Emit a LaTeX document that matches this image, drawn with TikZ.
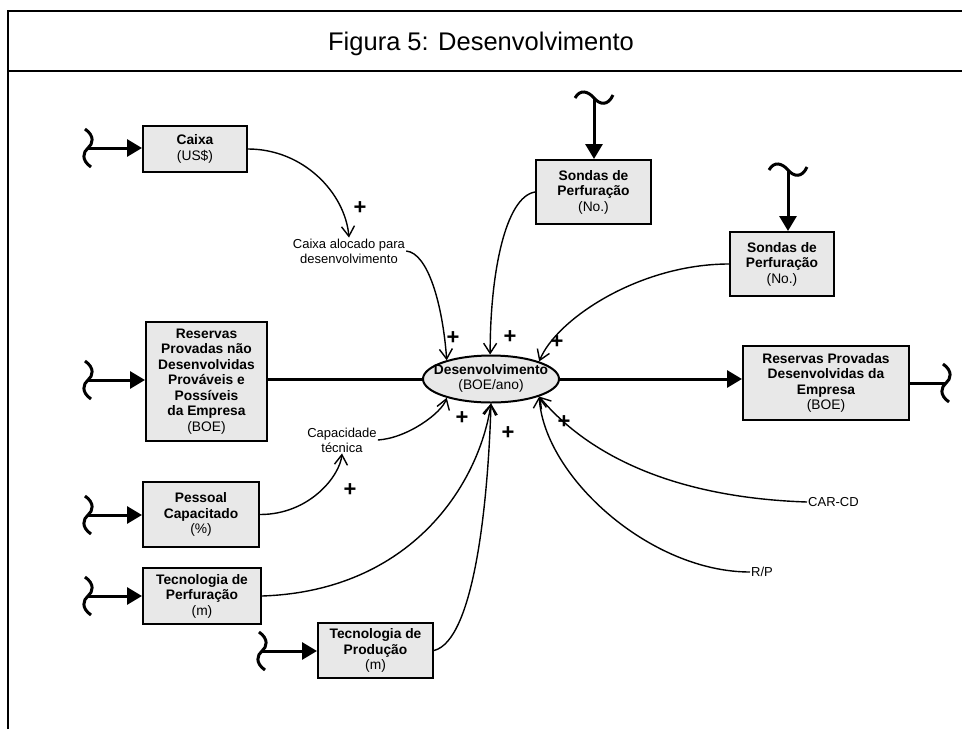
\documentclass[tikz,border=0pt]{standalone}
\usepackage{fontspec}
\setmainfont{Liberation Sans}
\usetikzlibrary{arrows.meta,shapes.geometric}
\definecolor{stockfill}{RGB}{232,232,232}
\begin{document}
\begin{tikzpicture}[x=1pt,y=-1pt,
  stock/.style={draw, line width=2pt, fill=stockfill, inner sep=0pt, align=center,
                font=\fontsize{13.8}{15.5}\selectfont},
  rate/.style={ellipse, draw, line width=2pt, fill=stockfill, inner sep=0pt,
               minimum width=136pt, minimum height=47pt},
  lbl/.style={align=center, inner sep=1pt, font=\fontsize{13}{15}\selectfont},
  plus/.style={inner sep=0pt, font=\fontsize{22}{22}\selectfont\bfseries},
  link/.style={line width=1.4pt, -{Straight Barb[length=10pt,width=13pt]}},
  flow/.style={line width=3pt},
  flowarrow/.style={flow, -{Triangle[length=15pt,width=17pt]}},
  srcv/.pic={\draw[line width=3pt] (-3,-19) .. controls (7,-12) and (5,-4) .. (0,0)
             .. controls (-5,4) and (-7,12) .. (3,19);},
  srch/.pic={\draw[line width=3pt] (-19,0) .. controls (-14,-9) and (-6,-7) .. (0,0)
             .. controls (6,7) and (14,8) .. (19,-3);}
]
\useasboundingbox (0,0) rectangle (962,729);
\fill[white] (0,0) rectangle (962,729);

% frame and title
\draw[line width=1.5pt] (8,729) -- (8,11) -- (962,11);
\draw[line width=1.5pt] (8,71) -- (962,71);
\node[font=\fontsize{25.5}{27}\selectfont] (title) at (481,44) {Figura 5: Desenvolvimento};

% stocks
\node[stock, minimum width=104pt, minimum height=46pt] (caixa) at (195,149)
  {\textbf{Caixa}\\(US\$)};
\node[stock, minimum width=115pt, minimum height=64pt] (sonda1) at (593.5,192)
  {\textbf{Sondas de}\\\textbf{Perfuração}\\(No.)};
\node[stock, minimum width=104pt, minimum height=64pt] (sonda2) at (782,264)
  {\textbf{Sondas de}\\\textbf{Perfuração}\\(No.)};
\node[stock, minimum width=121pt, minimum height=119pt] (resnd) at (206.5,381.5)
  {\textbf{Reservas}\\\textbf{Provadas não}\\\textbf{Desenvolvidas}\\\textbf{Prováveis e}\\\textbf{Possíveis}\\\textbf{da Empresa}\\(BOE)};
\node[stock, minimum width=166pt, minimum height=74pt] (resd) at (826,383)
  {\textbf{Reservas Provadas}\\\textbf{Desenvolvidas da}\\\textbf{Empresa}\\(BOE)};
\node[stock, minimum width=116pt, minimum height=65pt] (pessoal) at (201,514.5)
  {\textbf{Pessoal}\\\textbf{Capacitado}\\(\%)};
\node[stock, minimum width=118pt, minimum height=56pt] (tecperf) at (202,596)
  {\textbf{Tecnologia de}\\\textbf{Perfuração}\\(m)};
\node[stock, minimum width=115pt, minimum height=55pt] (tecprod) at (375.5,650.5)
  {\textbf{Tecnologia de}\\\textbf{Produção}\\(m)};

% rate
\node[rate] (des) at (491,379)
  {\makebox[0pt]{\fontsize{13.8}{15.5}\selectfont\begin{tabular}{@{}c@{}}\textbf{Desenvolvimento}\\(BOE/ano)\end{tabular}}};

% auxiliaries
\node[lbl] (aloc) at (349,251) {Caixa alocado para\\desenvolvimento};
\node[lbl] (cap) at (342,440) {Capacidade\\técnica};
\node[lbl, anchor=west] (carcd) at (807,502) {CAR-CD};
\node[lbl, anchor=west] (rp) at (750,572) {R/P};

% sources and sink
\coordinate (src1) at (88,148);
\coordinate (src2) at (88,380);
\coordinate (src3) at (88,515);
\coordinate (src4) at (88,596);
\coordinate (src5) at (262,651);
\coordinate (src6) at (594,98);
\coordinate (src7) at (788,170);
\coordinate (sink1) at (946,383);
\foreach \c in {src1,src2,src3,src4,src5,sink1} {\pic at (\c) {srcv};}
\foreach \c in {src6,src7} {\pic at (\c) {srch};}

% flows
\draw[flowarrow] (src1) -- (src1 -| caixa.west);
\draw[flowarrow] (src2) -- (src2 -| resnd.west);
\draw[flowarrow] (src3) -- (src3 -| pessoal.west);
\draw[flowarrow] (src4) -- (src4 -| tecperf.west);
\draw[flowarrow] (src5) -- (src5 -| tecprod.west);
\draw[flowarrow] (src6) -- (src6 |- sonda1.north);
\draw[flowarrow] (src7) -- (src7 |- sonda2.north);
\draw[flow] (resnd.east |- des.west) -- (des.west);
\draw[flowarrow] (des.east) -- (des.east -| resd.west);
\draw[flow] (resd.east) -- (sink1);

% causal links
\draw[link] (caixa.east) .. controls +(55,0) and +(-4,-45) .. (aloc.north);
\draw[link] (aloc.east) .. controls +(22,2) and +(-4,-55) .. (des.157);
\draw[link] (sonda1.west) .. controls +(-30,5) and +(0,-80) .. (des.92);
\draw[link] (sonda2.west) .. controls +(-90,0) and +(17,-42) .. (des.20);
\draw[link] (cap.east) .. controls +(30,-2) and +(-5,15) .. (des.203);
\draw[link] (pessoal.east) .. controls +(50,0) and +(-2,22) .. (cap.south);
\draw[link] (tecperf.east) .. controls +(150,-5) and +(-12,80) .. (des.270);
\draw[link] (tecprod.east) .. controls +(40,-10) and +(-3,100) .. (des.270);
\draw[link] (carcd.west) .. controls +(-150,-5) and +(40,48) .. (des.340);
\draw[link] (rp.west) .. controls +(-100,0) and +(5,80) .. (des.340);

% polarities
\node[plus] (p1) at (360,208) {+};
\node[plus] (p2) at (453,338) {+};
\node[plus] (p3) at (510,337) {+};
\node[plus] (p4) at (557,342) {+};
\node[plus] (p5) at (462,418) {+};
\node[plus] (p6) at (350,490) {+};
\node[plus] (p7) at (508,433) {+};
\node[plus] (p8) at (564,422) {+};
\end{tikzpicture}
\end{document}
